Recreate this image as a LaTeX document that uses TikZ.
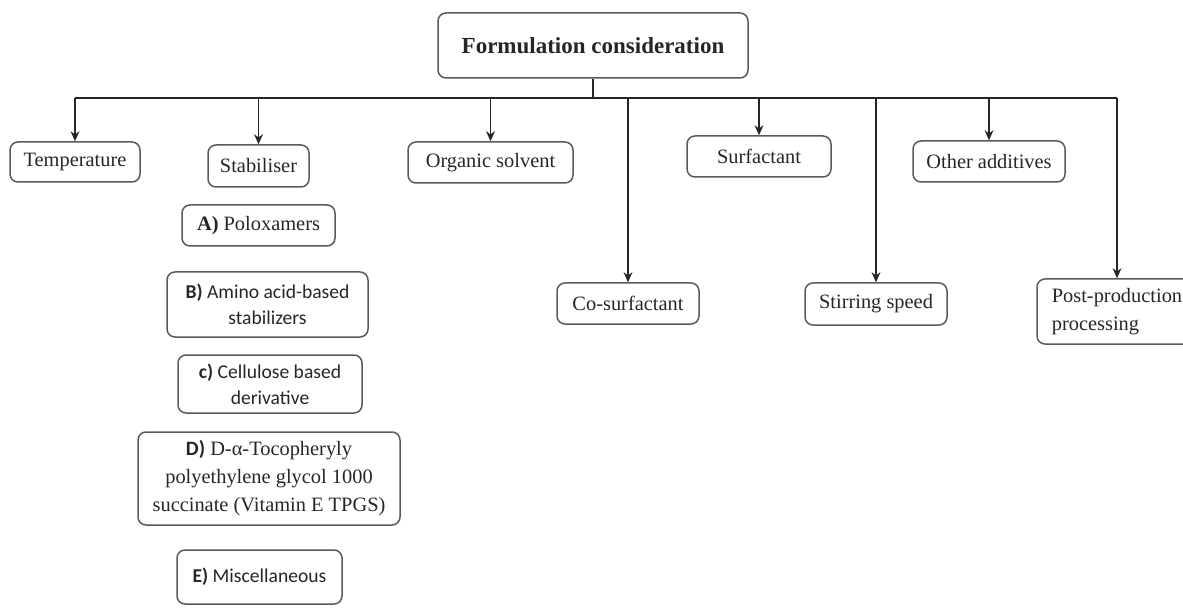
\documentclass[tikz,border=0pt]{standalone}
\usepackage{fontspec}
\setmainfont{Liberation Serif}
\newfontfamily\calibfont{Carlito}
\usetikzlibrary{arrows.meta}
\definecolor{boxline}{HTML}{5A5A5A}
\definecolor{ink}{HTML}{262626}
\begin{document}
\begin{tikzpicture}[x=0.5pt,y=-0.5pt,
  box/.style={draw=boxline, line width=0.75pt, rounded corners=4pt, inner sep=0pt,
    align=center, text=ink, font=\fontsize{10.2}{14}\selectfont},
  sansbox/.style={box, font=\calibfont\fontsize{9.8}{12.8}\selectfont},
  link/.style={draw=black!85, line width=0.8pt},
  arr/.style={link, -{Stealth[length=5pt,width=4.4pt]}}]
\useasboundingbox (0,0) rectangle (1183,609);

% root
\node[box, minimum width=155pt, minimum height=32.5pt,
      font=\fontsize{11.5}{14}\selectfont\bfseries] (top) at (593,45.5) {Formulation consideration};

% first level
\node[box, minimum width=65pt,  minimum height=20pt]   (temp)   at (75,162)     {Temperature};
\node[box, minimum width=50.5pt,minimum height=21pt]   (stab)   at (258.5,166)  {Stabiliser};
\node[box, minimum width=82.5pt,minimum height=20.5pt] (org)    at (490.5,162.5){Organic solvent};
\node[box, minimum width=72pt,  minimum height=20.5pt] (surf)   at (759,156.5)  {Surfactant};
\node[box, minimum width=76pt,  minimum height=20.5pt] (other)  at (989,161.5)  {Other additives};
\node[box, minimum width=71pt,  minimum height=20.5pt] (cosurf) at (628,303.5)  {Co-surfactant};
\node[box, minimum width=71pt,  minimum height=21pt]   (stir)   at (876,304)    {Stirring speed};
\node[box, minimum width=80pt,  minimum height=32.5pt, align=left] (post) at (1117,311.5)
      {Post-production\\processing};

% stabiliser classes
\node[box, minimum width=76.5pt, minimum height=20.5pt] (sa) at (258.5,225.5)
      {\textbf{A)} Poloxamers};
\node[sansbox, minimum width=100.5pt, minimum height=32.5pt] (sb) at (267.5,304.5)
      {\textbf{B)} Amino acid-based\\stabilizers};
\node[sansbox, minimum width=92pt, minimum height=29pt] (sc) at (270,384)
      {\textbf{c)} Cellulose based\\derivative};
\node[box, minimum width=131pt, minimum height=46.5pt] (sd) at (269,478.5)
      {{\calibfont\bfseries D)} D-α-Tocopheryly\\polyethylene glycol 1000\\succinate (Vitamin E TPGS)};
\node[sansbox, minimum width=82.5pt, minimum height=27pt] (se) at (259.5,577)
      {\textbf{E)} Miscellaneous};

% branching connectors
\coordinate (bus) at (0,98);
\draw[link] (top.south) -- (top.south |- bus);
\draw[link] (temp.north |- bus) -- (post.north |- bus);
\foreach \n in {temp,stab,org,cosurf,surf,stir,other,post}
  \draw[arr] (\n.north |- bus) -- (\n.north);
\end{tikzpicture}
\end{document}
